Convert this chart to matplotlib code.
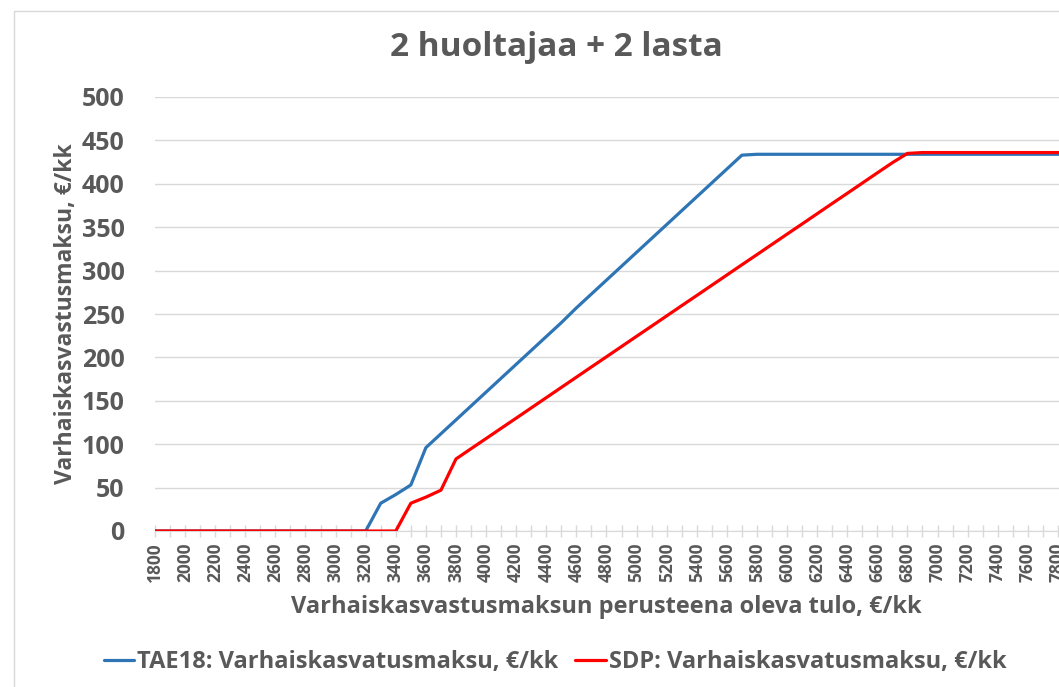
"""
Varhaiskasvatusmaksu: 2 huoltajaa + 2 lasta
"""

import matplotlib
matplotlib.use("Agg")
import matplotlib.pyplot as plt
from matplotlib.patches import Rectangle

# income categories, €/kk
income = list(range(1800, 8100, 100))

# TAE18: Varhaiskasvatusmaksu, €/kk
tae18 = [0, 0, 0, 0, 0, 0, 0, 0, 0, 0, 0, 0, 0, 0, 0,
         32, 42, 53, 96,
         112, 128, 144, 160, 176, 192, 208, 224, 240, 257, 273,
         289, 305, 321, 337, 353, 369, 385, 401, 417, 433,
         434,
         434, 434, 434, 434, 434, 434, 434, 434, 434, 434, 434,
         434, 434, 434, 434, 434, 434, 434, 434, 434, 434, 434]

# SDP: Varhaiskasvatusmaksu, €/kk
sdp = [0, 0, 0, 0, 0, 0, 0, 0, 0, 0, 0, 0, 0, 0, 0, 0, 0,
       32, 39, 47, 83,
       94.8, 106.5, 118.3, 130, 141.8, 153.6, 165.4, 177.2, 189, 200.7,
       212.5, 224.3, 236, 247.8, 259.6, 271.3, 283.1, 294.9, 306.7, 318.4,
       330.2, 342, 353.7, 365.5, 377.3, 389, 400.8, 412.6, 424.3, 435,
       436, 436, 436, 436, 436, 436, 436, 436, 436, 436, 436, 436]

title = "2 huoltajaa + 2 lasta"
xlabel = "Varhaiskasvastusmaksun perusteena oleva tulo, €/kk"
ylabel = "Varhaiskasvastusmaksu, €/kk"
labels = ["TAE18: Varhaiskasvatusmaksu, €/kk", "SDP: Varhaiskasvatusmaksu, €/kk"]

TXT = "#595959"
GRID = "#d9d9d9"

plt.rcParams["font.family"] = ["Open Sans", "DejaVu Sans"]
plt.rcParams["font.weight"] = "bold"

W, H = 1059, 687
fig = plt.figure(figsize=(W / 100, H / 100), dpi=100)

# chart area border (runs off the picture on the right and bottom)
fig.patches.append(Rectangle((14 / W, -0.1), 1.2, 1 - 11 / H + 0.1,
                             transform=fig.transFigure, fill=False,
                             edgecolor=GRID, linewidth=1))

left, right, top, bottom = 155, 1088, 97, 531
ax = fig.add_axes([left / W, 1 - bottom / H, (right - left) / W, (bottom - top) / H])

ax.plot(income, tae18, color="#2E75B6", linewidth=2.3, solid_capstyle="round",
        label=labels[0], zorder=3)
ax.plot(income, sdp, color="#FF0000", linewidth=2.3, solid_capstyle="round",
        label=labels[1], zorder=4)

ax.set_xlim(income[0], income[-1])
ax.set_ylim(0, 500)
ax.set_yticks(range(0, 501, 50))
ax.set_xticks(income[::2])
ax.set_xticks(income, minor=True)
ax.yaxis.grid(True, color=GRID, linewidth=1)
ax.set_axisbelow(True)

for s in ["top", "right", "left"]:
    ax.spines[s].set_visible(False)
ax.spines["bottom"].set_color(GRID)
ax.spines["bottom"].set_zorder(1)

ax.tick_params(axis="y", length=0, labelsize=18, labelcolor=TXT, pad=22)
ax.tick_params(axis="x", which="both", direction="inout", length=9, width=1,
               color=GRID, labelsize=12.5, labelcolor=TXT, labelrotation=90, pad=4)
ax.tick_params(axis="x", which="minor", labelbottom=False)

fig.text(556 / W, 1 - 47 / H, title, ha="center", va="center",
         fontsize=24, color=TXT, fontweight="bold")
fig.text(606 / W, 1 - 607 / H, xlabel, ha="center", va="center",
         fontsize=17, color=TXT, fontweight="bold")
fig.text(66 / W, 1 - 314 / H, ylabel, ha="center", va="center", rotation=90,
         fontsize=16.5, color=TXT, fontweight="bold")

leg = fig.legend(loc="center", bbox_to_anchor=(555 / W, 1 - 662 / H), ncol=2,
                 frameon=False, fontsize=17, handlelength=1.3,
                 handletextpad=0.12, columnspacing=0.7)
for t in leg.get_texts():
    t.set_color(TXT)

fig.savefig("out.png", dpi=100)
